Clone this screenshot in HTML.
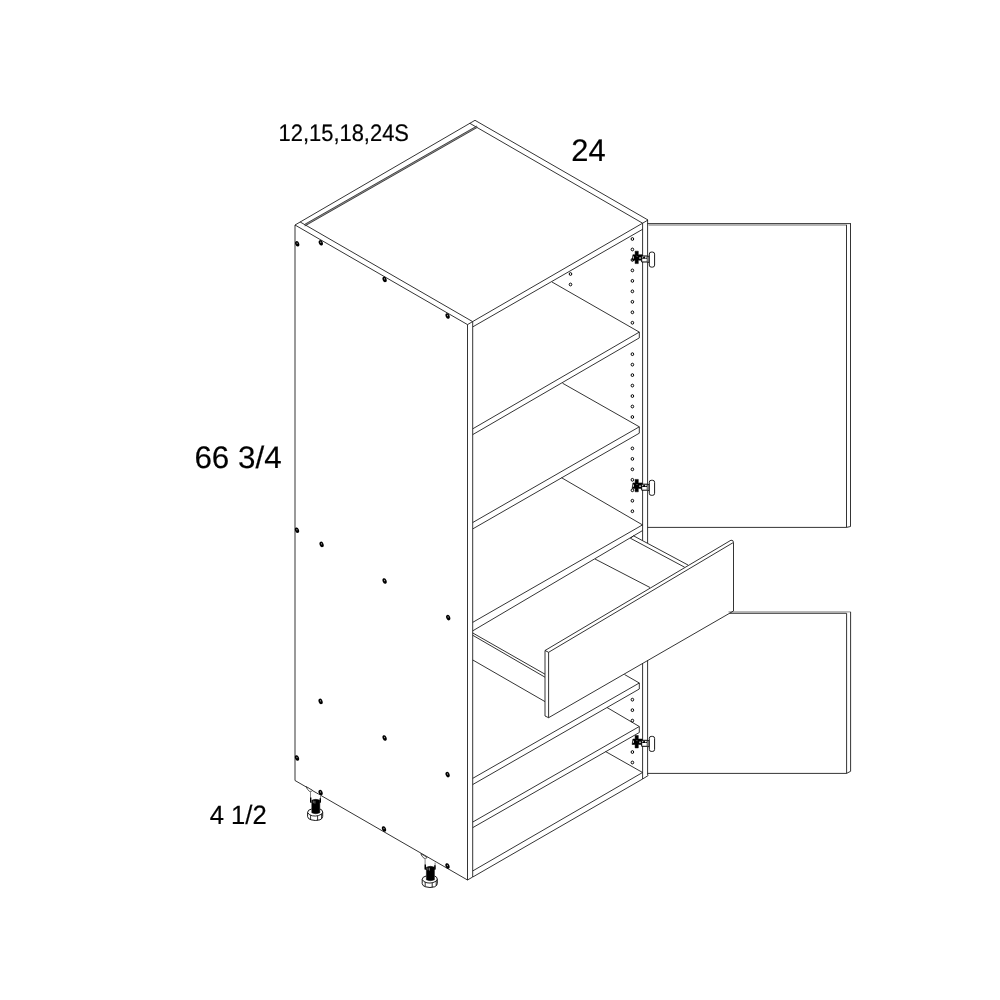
<!DOCTYPE html>
<html lang="en">
<head>
<meta charset="utf-8">
<title>Tall cabinet drawing</title>
<style>
html,body{margin:0;padding:0;background:#fff;}
body{width:1000px;height:1000px;overflow:hidden;}
svg{display:block;}
.ln{fill:none;stroke:#111;stroke-width:0.85;stroke-linecap:butt;stroke-linejoin:round;}
.tx{font-family:"Liberation Sans",Arial,Helvetica,sans-serif;fill:#000;stroke:#000;stroke-width:0.2px;text-rendering:geometricPrecision;}
</style>
</head>
<body>
<svg width="1000" height="1000" viewBox="0 0 1000 1000">
<rect x="0" y="0" width="1000" height="1000" fill="#ffffff"/>
<g class="ln">
<line x1="295.00" y1="225.00" x2="475.00" y2="120.30"/>
<line x1="475.00" y1="120.30" x2="648.00" y2="220.00"/>
<line x1="295.00" y1="225.00" x2="467.50" y2="324.60"/>
<line x1="300.20" y1="222.00" x2="472.60" y2="321.60"/>
<line x1="467.50" y1="324.60" x2="472.60" y2="321.60"/>
<line x1="469.80" y1="123.30" x2="642.60" y2="223.20"/>
<line x1="472.60" y1="321.60" x2="642.60" y2="223.20"/>
<line x1="642.60" y1="223.20" x2="648.00" y2="220.00"/>
<line x1="304.45" y1="225.35" x2="477.15" y2="126.65" stroke-width="1.5" stroke="#9a9a9a"/>
<line x1="304.10" y1="224.70" x2="476.80" y2="126.00" stroke-width="0.75" stroke="#1a1a1a"/>
<line x1="304.80" y1="226.00" x2="477.50" y2="127.30" stroke-width="0.75" stroke="#1a1a1a"/>
<line x1="295.00" y1="225.00" x2="295.00" y2="780.50"/>
<line x1="295.00" y1="780.50" x2="467.50" y2="880.00"/>
<line x1="467.50" y1="324.60" x2="467.50" y2="880.00"/>
<line x1="472.70" y1="321.60" x2="472.70" y2="877.00"/>
<line x1="467.50" y1="880.00" x2="472.70" y2="877.00"/>
<line x1="472.90" y1="326.80" x2="642.60" y2="229.30"/>
<line x1="642.60" y1="223.20" x2="642.60" y2="540.50"/>
<line x1="647.60" y1="220.00" x2="647.60" y2="543.00"/>
<line x1="642.60" y1="663.50" x2="642.60" y2="779.00"/>
<line x1="647.60" y1="660.50" x2="647.60" y2="775.20"/>
<line x1="642.60" y1="779.00" x2="648.40" y2="775.40"/>
<line x1="639.30" y1="332.10" x2="472.80" y2="428.77"/>
<line x1="639.30" y1="337.90" x2="472.80" y2="434.57"/>
<line x1="639.30" y1="332.10" x2="639.30" y2="337.90"/>
<line x1="552.00" y1="282.00" x2="639.30" y2="332.10"/>
<line x1="639.30" y1="426.80" x2="472.80" y2="522.47"/>
<line x1="639.30" y1="433.20" x2="472.80" y2="528.87"/>
<line x1="639.30" y1="426.80" x2="639.30" y2="433.20"/>
<line x1="562.50" y1="383.20" x2="639.30" y2="426.80"/>
<line x1="642.50" y1="524.90" x2="472.80" y2="622.30"/>
<line x1="642.50" y1="530.60" x2="472.80" y2="630.80"/>
<line x1="561.50" y1="477.70" x2="642.50" y2="524.90"/>
<line x1="639.30" y1="683.00" x2="472.80" y2="778.30"/>
<line x1="639.30" y1="689.00" x2="472.80" y2="784.50"/>
<line x1="639.30" y1="683.00" x2="639.30" y2="689.00"/>
<line x1="624.50" y1="674.50" x2="639.30" y2="683.00"/>
<line x1="639.30" y1="726.50" x2="472.80" y2="822.00"/>
<line x1="639.30" y1="732.50" x2="472.80" y2="827.60"/>
<line x1="639.30" y1="726.50" x2="639.30" y2="732.50"/>
<line x1="607.00" y1="707.50" x2="639.30" y2="726.50"/>
<line x1="642.40" y1="772.60" x2="472.80" y2="870.90"/>
<line x1="642.60" y1="779.00" x2="472.80" y2="877.00"/>
<line x1="605.50" y1="751.50" x2="642.40" y2="772.40"/>
<line x1="647.60" y1="223.60" x2="850.50" y2="223.60"/>
<line x1="648.50" y1="225.00" x2="846.50" y2="225.00" stroke-width="1.6" stroke="#9c9c9c"/>
<line x1="850.50" y1="223.20" x2="850.50" y2="526.50"/>
<line x1="846.50" y1="224.80" x2="846.50" y2="527.40"/>
<line x1="647.60" y1="527.40" x2="846.50" y2="527.40"/>
<line x1="846.50" y1="527.40" x2="850.50" y2="526.50"/>
<line x1="728.50" y1="611.90" x2="850.60" y2="611.90" stroke-width="1.3" stroke="#a0a0a0"/>
<line x1="729.50" y1="613.30" x2="846.50" y2="613.30"/>
<line x1="850.60" y1="611.90" x2="850.60" y2="771.30"/>
<line x1="846.60" y1="613.30" x2="846.60" y2="773.40"/>
<line x1="647.60" y1="773.40" x2="846.60" y2="773.40"/>
<line x1="846.60" y1="773.40" x2="850.60" y2="771.30"/>
<line x1="545.00" y1="650.50" x2="731.00" y2="540.20"/>
<line x1="548.60" y1="652.30" x2="733.20" y2="542.60"/>
<path d="M731.00 540.20 L732.80 540.60 L733.50 542.40"/>
<line x1="733.50" y1="542.40" x2="733.50" y2="611.00"/>
<line x1="545.00" y1="650.50" x2="545.00" y2="716.00"/>
<line x1="548.60" y1="652.30" x2="548.60" y2="717.70"/>
<line x1="545.00" y1="650.50" x2="548.60" y2="652.30"/>
<line x1="545.00" y1="716.00" x2="548.60" y2="717.70"/>
<line x1="548.60" y1="717.70" x2="733.50" y2="611.00"/>
<line x1="633.50" y1="535.80" x2="688.00" y2="565.00"/>
<line x1="630.50" y1="538.30" x2="684.60" y2="567.20"/>
<line x1="633.50" y1="535.80" x2="630.50" y2="538.30"/>
<line x1="595.00" y1="559.00" x2="650.00" y2="587.50"/>
<line x1="472.80" y1="633.00" x2="545.00" y2="674.20"/>
<line x1="472.80" y1="635.30" x2="545.00" y2="677.20"/>
<line x1="472.80" y1="660.00" x2="545.00" y2="701.60"/>
<ellipse cx="632.40" cy="239.00" rx="1.3" ry="1.4" stroke-width="1.0" stroke="#000"/>
<ellipse cx="632.40" cy="249.47" rx="1.3" ry="1.4" stroke-width="1.0" stroke="#000"/>
<ellipse cx="632.40" cy="259.94" rx="1.3" ry="1.4" stroke-width="1.0" stroke="#000"/>
<ellipse cx="632.40" cy="270.41" rx="1.3" ry="1.4" stroke-width="1.0" stroke="#000"/>
<ellipse cx="632.40" cy="280.88" rx="1.3" ry="1.4" stroke-width="1.0" stroke="#000"/>
<ellipse cx="632.40" cy="291.35" rx="1.3" ry="1.4" stroke-width="1.0" stroke="#000"/>
<ellipse cx="632.40" cy="301.82" rx="1.3" ry="1.4" stroke-width="1.0" stroke="#000"/>
<ellipse cx="632.40" cy="312.29" rx="1.3" ry="1.4" stroke-width="1.0" stroke="#000"/>
<ellipse cx="632.40" cy="322.76" rx="1.3" ry="1.4" stroke-width="1.0" stroke="#000"/>
<ellipse cx="632.40" cy="354.17" rx="1.3" ry="1.4" stroke-width="1.0" stroke="#000"/>
<ellipse cx="632.40" cy="364.64" rx="1.3" ry="1.4" stroke-width="1.0" stroke="#000"/>
<ellipse cx="632.40" cy="375.11" rx="1.3" ry="1.4" stroke-width="1.0" stroke="#000"/>
<ellipse cx="632.40" cy="385.58" rx="1.3" ry="1.4" stroke-width="1.0" stroke="#000"/>
<ellipse cx="632.40" cy="396.05" rx="1.3" ry="1.4" stroke-width="1.0" stroke="#000"/>
<ellipse cx="632.40" cy="406.52" rx="1.3" ry="1.4" stroke-width="1.0" stroke="#000"/>
<ellipse cx="632.40" cy="416.99" rx="1.3" ry="1.4" stroke-width="1.0" stroke="#000"/>
<ellipse cx="632.40" cy="448.40" rx="1.3" ry="1.4" stroke-width="1.0" stroke="#000"/>
<ellipse cx="632.40" cy="458.87" rx="1.3" ry="1.4" stroke-width="1.0" stroke="#000"/>
<ellipse cx="632.40" cy="469.34" rx="1.3" ry="1.4" stroke-width="1.0" stroke="#000"/>
<ellipse cx="632.40" cy="479.81" rx="1.3" ry="1.4" stroke-width="1.0" stroke="#000"/>
<ellipse cx="632.40" cy="490.28" rx="1.3" ry="1.4" stroke-width="1.0" stroke="#000"/>
<ellipse cx="632.40" cy="500.75" rx="1.3" ry="1.4" stroke-width="1.0" stroke="#000"/>
<ellipse cx="632.40" cy="511.22" rx="1.3" ry="1.4" stroke-width="1.0" stroke="#000"/>
<ellipse cx="632.40" cy="699.68" rx="1.3" ry="1.4" stroke-width="1.0" stroke="#000"/>
<ellipse cx="632.40" cy="710.15" rx="1.3" ry="1.4" stroke-width="1.0" stroke="#000"/>
<ellipse cx="632.40" cy="720.62" rx="1.3" ry="1.4" stroke-width="1.0" stroke="#000"/>
<ellipse cx="632.40" cy="752.03" rx="1.3" ry="1.4" stroke-width="1.0" stroke="#000"/>
<ellipse cx="632.40" cy="762.50" rx="1.3" ry="1.4" stroke-width="1.0" stroke="#000"/>
<ellipse cx="570.50" cy="274.00" rx="1.3" ry="1.4" stroke-width="1.0" stroke="#000"/>
<ellipse cx="570.50" cy="284.50" rx="1.3" ry="1.4" stroke-width="1.0" stroke="#000"/>
<g transform="translate(0,257.40)"><path d="M635.1 -6.2 H638.3 V-2.7 H642.2 V2.8 H638.3 V6.2 H635.1 V2.8 H632.1 L632.9 -2.7 H635.1 Z" fill="#000" stroke="#000" stroke-width="0.5" stroke-linejoin="miter"/><rect x="633.0" y="-1.0" width="0.9" height="2.2" fill="#ddd" stroke="none"/><rect x="639.3" y="-0.2" width="1.5" height="1.6" fill="#ccc" stroke="none"/><path d="M636.6 -1.6 L637.4 -0.6" stroke="#ddd" stroke-width="0.5"/><rect x="641.7" y="-1.4" width="5.6" height="6.0" fill="#fff" stroke="#000" stroke-width="1.0"/><path d="M642.2 0.6 L644.4 -1.2 L645.8 1.0 L647.4 -0.6 V1.4 H642.2 Z" fill="#000" stroke="none"/><path d="M647.4 -0.8 L649.2 -1.4 V5.2 L647.4 4.6" fill="#bbb" stroke="#000" stroke-width="0.8"/><rect x="649.3" y="-5.3" width="5.3" height="15.0" rx="1.9" ry="2.0" fill="#fff" stroke="#000" stroke-width="0.9"/></g>
<g transform="translate(0,485.60)"><path d="M635.1 -6.2 H638.3 V-2.7 H642.2 V2.8 H638.3 V6.2 H635.1 V2.8 H632.1 L632.9 -2.7 H635.1 Z" fill="#000" stroke="#000" stroke-width="0.5" stroke-linejoin="miter"/><rect x="633.0" y="-1.0" width="0.9" height="2.2" fill="#ddd" stroke="none"/><rect x="639.3" y="-0.2" width="1.5" height="1.6" fill="#ccc" stroke="none"/><path d="M636.6 -1.6 L637.4 -0.6" stroke="#ddd" stroke-width="0.5"/><rect x="641.7" y="-1.4" width="5.6" height="6.0" fill="#fff" stroke="#000" stroke-width="1.0"/><path d="M642.2 0.6 L644.4 -1.2 L645.8 1.0 L647.4 -0.6 V1.4 H642.2 Z" fill="#000" stroke="none"/><path d="M647.4 -0.8 L649.2 -1.4 V5.2 L647.4 4.6" fill="#bbb" stroke="#000" stroke-width="0.8"/><rect x="649.3" y="-5.3" width="5.3" height="15.0" rx="1.9" ry="2.0" fill="#fff" stroke="#000" stroke-width="0.9"/></g>
<g transform="translate(0,741.70)"><path d="M635.1 -6.2 H638.3 V-2.7 H642.2 V2.8 H638.3 V6.2 H635.1 V2.8 H632.1 L632.9 -2.7 H635.1 Z" fill="#000" stroke="#000" stroke-width="0.5" stroke-linejoin="miter"/><rect x="633.0" y="-1.0" width="0.9" height="2.2" fill="#ddd" stroke="none"/><rect x="639.3" y="-0.2" width="1.5" height="1.6" fill="#ccc" stroke="none"/><path d="M636.6 -1.6 L637.4 -0.6" stroke="#ddd" stroke-width="0.5"/><rect x="641.7" y="-1.4" width="5.6" height="6.0" fill="#fff" stroke="#000" stroke-width="1.0"/><path d="M642.2 0.6 L644.4 -1.2 L645.8 1.0 L647.4 -0.6 V1.4 H642.2 Z" fill="#000" stroke="none"/><path d="M647.4 -0.8 L649.2 -1.4 V5.2 L647.4 4.6" fill="#bbb" stroke="#000" stroke-width="0.8"/><rect x="649.3" y="-5.3" width="5.3" height="15.0" rx="1.9" ry="2.0" fill="#fff" stroke="#000" stroke-width="0.9"/></g>
<g transform="rotate(-22 297.20 243.80)"><ellipse cx="297.20" cy="243.80" rx="1.95" ry="2.85" fill="#000" stroke="none"/><ellipse cx="297.35" cy="243.30" rx="0.55" ry="0.8" fill="#9a9a9a" stroke="none"/></g>
<g transform="rotate(-22 320.80 242.80)"><ellipse cx="320.80" cy="242.80" rx="1.95" ry="2.85" fill="#000" stroke="none"/><ellipse cx="320.95" cy="242.30" rx="0.55" ry="0.8" fill="#9a9a9a" stroke="none"/></g>
<g transform="rotate(-22 384.60 279.40)"><ellipse cx="384.60" cy="279.40" rx="1.95" ry="2.85" fill="#000" stroke="none"/><ellipse cx="384.75" cy="278.90" rx="0.55" ry="0.8" fill="#9a9a9a" stroke="none"/></g>
<g transform="rotate(-22 447.60 316.00)"><ellipse cx="447.60" cy="316.00" rx="1.95" ry="2.85" fill="#000" stroke="none"/><ellipse cx="447.75" cy="315.50" rx="0.55" ry="0.8" fill="#9a9a9a" stroke="none"/></g>
<g transform="rotate(-22 297.00 530.20)"><ellipse cx="297.00" cy="530.20" rx="1.95" ry="2.85" fill="#000" stroke="none"/><ellipse cx="297.15" cy="529.70" rx="0.55" ry="0.8" fill="#9a9a9a" stroke="none"/></g>
<g transform="rotate(-22 321.60 544.40)"><ellipse cx="321.60" cy="544.40" rx="1.95" ry="2.85" fill="#000" stroke="none"/><ellipse cx="321.75" cy="543.90" rx="0.55" ry="0.8" fill="#9a9a9a" stroke="none"/></g>
<g transform="rotate(-22 384.60 581.00)"><ellipse cx="384.60" cy="581.00" rx="1.95" ry="2.85" fill="#000" stroke="none"/><ellipse cx="384.75" cy="580.50" rx="0.55" ry="0.8" fill="#9a9a9a" stroke="none"/></g>
<g transform="rotate(-22 448.20 617.60)"><ellipse cx="448.20" cy="617.60" rx="1.95" ry="2.85" fill="#000" stroke="none"/><ellipse cx="448.35" cy="617.10" rx="0.55" ry="0.8" fill="#9a9a9a" stroke="none"/></g>
<g transform="rotate(-22 320.60 701.40)"><ellipse cx="320.60" cy="701.40" rx="1.95" ry="2.85" fill="#000" stroke="none"/><ellipse cx="320.75" cy="700.90" rx="0.55" ry="0.8" fill="#9a9a9a" stroke="none"/></g>
<g transform="rotate(-22 384.60 738.00)"><ellipse cx="384.60" cy="738.00" rx="1.95" ry="2.85" fill="#000" stroke="none"/><ellipse cx="384.75" cy="737.50" rx="0.55" ry="0.8" fill="#9a9a9a" stroke="none"/></g>
<g transform="rotate(-22 447.60 774.60)"><ellipse cx="447.60" cy="774.60" rx="1.95" ry="2.85" fill="#000" stroke="none"/><ellipse cx="447.75" cy="774.10" rx="0.55" ry="0.8" fill="#9a9a9a" stroke="none"/></g>
<g transform="rotate(-22 297.00 758.00)"><ellipse cx="297.00" cy="758.00" rx="1.95" ry="2.85" fill="#000" stroke="none"/><ellipse cx="297.15" cy="757.50" rx="0.55" ry="0.8" fill="#9a9a9a" stroke="none"/></g>
<g transform="rotate(-22 320.60 792.60)"><ellipse cx="320.60" cy="792.60" rx="1.95" ry="2.85" fill="#000" stroke="none"/><ellipse cx="320.75" cy="792.10" rx="0.55" ry="0.8" fill="#9a9a9a" stroke="none"/></g>
<g transform="rotate(-22 384.00 829.00)"><ellipse cx="384.00" cy="829.00" rx="1.95" ry="2.85" fill="#000" stroke="none"/><ellipse cx="384.15" cy="828.50" rx="0.55" ry="0.8" fill="#9a9a9a" stroke="none"/></g>
<g transform="rotate(-22 447.50 866.00)"><ellipse cx="447.50" cy="866.00" rx="1.95" ry="2.85" fill="#000" stroke="none"/><ellipse cx="447.65" cy="865.50" rx="0.55" ry="0.8" fill="#9a9a9a" stroke="none"/></g>
<g transform="translate(0.00,0.00)"><path d="M306.2 786.6 Q307.0 789.6 309.6 791.4 Q311.6 791.8 312.6 790.4 Z" fill="#fff" stroke="#222" stroke-width="0.8"/><path d="M310.5 791.4 V802.4 H320.5 V795.6" fill="#fff" stroke="#777" stroke-width="0.9"/><path d="M310.7 797.6 V802.6 M320.3 798.2 V802.6" stroke="#000" stroke-width="1.4"/><path d="M311.8 800.2 Q315.8 798.4 319.8 800.2 V812.8 Q315.8 814.8 311.8 812.8 Z" fill="#000" stroke="#000" stroke-width="0.5"/><path d="M313.3 800.6 V803.2 M314.9 800.8 V803.6" stroke="#eee" stroke-width="0.45"/><path d="M311.6 809.0 Q307.6 809.8 307.6 812.4 V816.6 Q307.9 819.0 311.0 819.8 Q315.2 821.2 320.0 819.8 Q322.7 818.6 322.7 816.4 V812.2 Q322.6 809.8 320.0 809.0" fill="none" stroke="#000" stroke-width="0.9"/><path d="M307.8 812.6 Q308.6 815.0 312.4 815.8 Q315.4 816.4 318.4 815.6 Q322.0 814.6 322.6 812.4" fill="none" stroke="#000" stroke-width="0.85"/><path d="M310.6 815.2 V819.6 M317.6 815.8 V820.4 M321.6 814.0 V818.6" stroke="#000" stroke-width="0.8"/></g>
<g transform="translate(114.60,67.00)"><path d="M306.2 786.6 Q307.0 789.6 309.6 791.4 Q311.6 791.8 312.6 790.4 Z" fill="#fff" stroke="#222" stroke-width="0.8"/><path d="M310.5 791.4 V802.4 H320.5 V795.6" fill="#fff" stroke="#777" stroke-width="0.9"/><path d="M310.7 797.6 V802.6 M320.3 798.2 V802.6" stroke="#000" stroke-width="1.4"/><path d="M311.8 800.2 Q315.8 798.4 319.8 800.2 V812.8 Q315.8 814.8 311.8 812.8 Z" fill="#000" stroke="#000" stroke-width="0.5"/><path d="M313.3 800.6 V803.2 M314.9 800.8 V803.6" stroke="#eee" stroke-width="0.45"/><path d="M311.6 809.0 Q307.6 809.8 307.6 812.4 V816.6 Q307.9 819.0 311.0 819.8 Q315.2 821.2 320.0 819.8 Q322.7 818.6 322.7 816.4 V812.2 Q322.6 809.8 320.0 809.0" fill="none" stroke="#000" stroke-width="0.9"/><path d="M307.8 812.6 Q308.6 815.0 312.4 815.8 Q315.4 816.4 318.4 815.6 Q322.0 814.6 322.6 812.4" fill="none" stroke="#000" stroke-width="0.85"/><path d="M310.6 815.2 V819.6 M317.6 815.8 V820.4 M321.6 814.0 V818.6" stroke="#000" stroke-width="0.8"/></g>
</g>
<g class="tx" opacity="0.999">
<text transform="translate(278.6,141.5) scale(1,1.089)" font-size="21.92">12,15,18,24S</text>
<text transform="translate(571.3,161.3) scale(1,1.01)" font-size="30.9">24</text>
<text transform="translate(194.4,468.3) scale(1,0.99)" font-size="31.4">66 3/4</text>
<text transform="translate(209.7,823.7) scale(1,1.036)" font-size="25.62">4 1/2</text>
</g>
</svg>
</body>
</html>
